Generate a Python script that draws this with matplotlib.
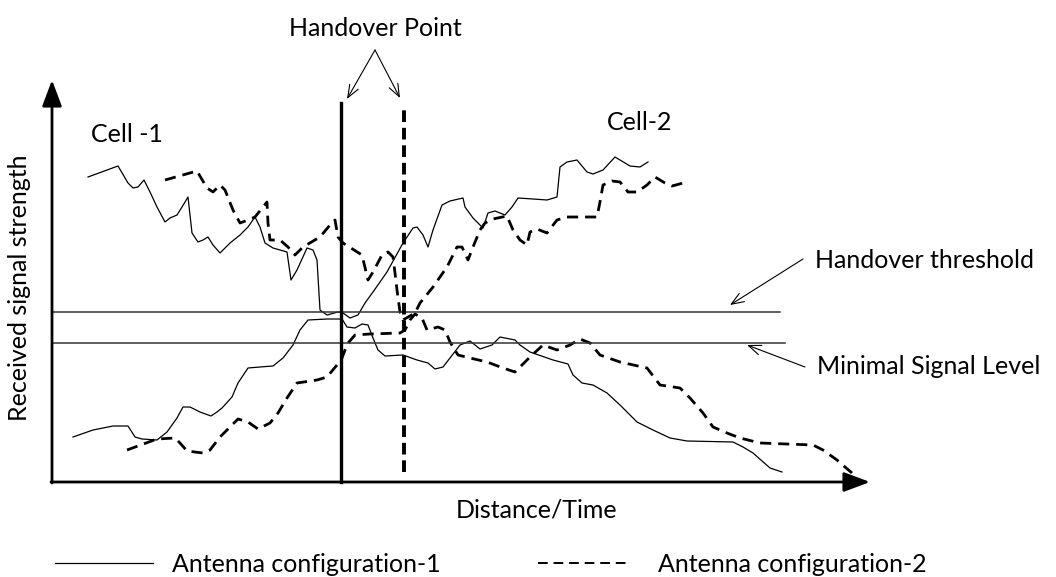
import matplotlib.pyplot as plt

plt.rcParams["font.family"] = ["Lato", "DejaVu Sans"]

# received signal traces, x = distance/time, y = signal strength (arbitrary units)
cfg1_top_x = [36, 66, 76, 81, 86, 92, 98, 105, 113, 118, 125, 130, 136, 140, 146, 151, 156, 161, 168, 178,
              188, 196, 203, 208, 213, 221, 235, 239, 245, 255, 261, 265, 268, 275, 286, 291, 298, 306, 313, 321,
              335, 351, 361, 365, 371, 376, 381, 390, 398, 411, 413, 421, 431, 436, 443, 453, 460, 466, 481, 495,
              505, 508, 515, 525, 535, 541, 551, 563, 578, 588, 596]
cfg1_top_y = [305, 316, 299, 294, 295, 302, 290, 275, 260, 264, 267, 275, 285, 249, 240, 242, 245, 237, 229, 239,
              247, 255, 265, 255, 239, 234, 230, 202, 212, 234, 232, 222, 172, 167, 170, 169, 164, 167, 179, 190,
              210, 239, 254, 255, 247, 235, 252, 277, 281, 284, 275, 264, 254, 269, 271, 267, 275, 284, 283, 282,
              285, 315, 320, 322, 310, 308, 312, 325, 316, 315, 320]

cfg1_bot_x = [21, 41, 61, 76, 83, 90, 105, 115, 125, 131, 138, 148, 159, 165, 170, 180, 186, 196, 208, 221,
              231, 241, 248, 256, 275, 290, 295, 303, 310, 316, 321, 326, 333, 351, 365, 376, 383, 391, 398, 408,
              418, 428, 440, 448, 463, 468, 478, 501, 516, 521, 530, 541, 555, 568, 585, 601, 618, 635, 681, 691,
              701, 718, 730]
cfg1_bot_y = [45, 52, 56, 56, 45, 43, 42, 50, 64, 75, 75, 70, 66, 70, 74, 85, 99, 114, 115, 116,
              124, 137, 152, 162, 163, 163, 155, 154, 158, 157, 144, 132, 126, 127, 122, 119, 113, 115, 124, 137,
              141, 133, 137, 145, 142, 137, 130, 122, 118, 107, 99, 97, 89, 77, 60, 52, 44, 41, 40, 35,
              29, 14, 10]

cfg2_top_x = [113, 145, 155, 161, 168, 173, 181, 188, 196, 203, 215, 216, 218, 228, 236, 243, 251, 268, 278, 283,
              286, 291, 310, 316, 321, 330, 336, 341, 343, 345, 348, 351, 363, 368, 381, 395, 405, 410, 416, 421,
              428, 433, 441, 455, 461, 468, 475, 478, 485, 495, 505, 515, 531, 545, 548, 551, 560, 568, 576, 585,
              595, 603, 613, 620, 635]
cfg2_top_y = [302, 311, 294, 290, 297, 292, 272, 259, 262, 265, 280, 259, 242, 242, 235, 227, 235, 245, 257, 262,
              245, 239, 227, 202, 210, 227, 230, 225, 209, 192, 170, 162, 169, 179, 195, 215, 235, 235, 222, 235,
              252, 259, 263, 266, 252, 242, 237, 250, 253, 249, 262, 265, 265, 265, 280, 297, 301, 300, 290, 290,
              297, 305, 299, 296, 300]

cfg2_bot_x = [75, 105, 123, 128, 135, 151, 158, 168, 178, 186, 196, 206, 218, 226, 235, 245, 265, 275, 285, 290,
              293, 296, 303, 318, 348, 353, 358, 363, 370, 375, 386, 393, 398, 406, 418, 435, 451, 463, 478, 491,
              505, 518, 528, 538, 548, 568, 595, 608, 628, 638, 651, 661, 675, 688, 708, 761, 771, 785, 800]
cfg2_bot_y = [32, 43, 44, 39, 31, 29, 32, 45, 55, 63, 60, 53, 59, 69, 84, 99, 102, 105, 117, 124,
              132, 139, 147, 148, 149, 152, 162, 168, 164, 152, 155, 152, 140, 127, 124, 120, 114, 110, 125, 137,
              132, 137, 143, 139, 127, 120, 114, 97, 94, 84, 69, 55, 49, 44, 39, 37, 32, 22, 9]

handover_threshold = 170
minimal_level = 139
handover_cfg1 = 289
handover_cfg2 = 352

fig = plt.figure(figsize=(10.56, 5.77), dpi=100)
ax = fig.add_axes([0, 0, 1, 1])
ax.set_xlim(-52, 1004)
ax.set_ylim(-95, 482)
ax.axis("off")

# curves
ax.plot(cfg1_top_x, cfg1_top_y, color="black", lw=0.9)
ax.plot(cfg1_bot_x, cfg1_bot_y, color="black", lw=0.9)
ax.plot(cfg2_top_x, cfg2_top_y, color="black", lw=2.0, dashes=(4, 2.5))
ax.plot(cfg2_bot_x, cfg2_bot_y, color="black", lw=2.0, dashes=(4, 2.5))

# threshold levels
ax.plot([0, 728], [handover_threshold] * 2, color="#333333", lw=1.1)
ax.plot([0, 733], [minimal_level] * 2, color="#333333", lw=1.1)

# handover points
ax.plot([handover_cfg1] * 2, [0, 379], color="black", lw=2.4)
ax.plot([handover_cfg2] * 2, [10, 377], color="black", lw=2.8, dashes=(3, 1.5))

# axes with arrow heads
arrow_kw = dict(arrowstyle="-|>,head_length=0.8,head_width=0.3", lw=2, color="black",
                shrinkA=0, shrinkB=0, mutation_scale=20)
ax.annotate("", xy=(0, 402), xytext=(0, -1), arrowprops=arrow_kw)
ax.annotate("", xy=(818, 0), xytext=(-1, 0), arrowprops=arrow_kw)

# labels
fs = 18
pointer = dict(arrowstyle="->,head_length=0.9,head_width=0.35", lw=0.8, color="black",
               shrinkA=0, shrinkB=0)
ax.text(323, 454, "Handover Point", ha="center", va="center", fontsize=fs)
ax.annotate("", xy=(295, 383), xytext=(323, 432), arrowprops=pointer)
ax.annotate("", xy=(348, 384), xytext=(323, 432), arrowprops=pointer)

ax.text(75, 347, "Cell -1", ha="center", va="center", fontsize=fs)
ax.text(588, 359, "Cell-2", ha="center", va="center", fontsize=fs)

ax.text(763, 221, "Handover threshold", ha="left", va="center", fontsize=fs)
ax.annotate("", xy=(678, 177), xytext=(751, 223), arrowprops=pointer)
ax.text(765, 116, "Minimal Signal Level", ha="left", va="center", fontsize=fs)
ax.annotate("", xy=(695, 137), xytext=(753, 115), arrowprops=pointer)

ax.text(-32, 194, "Received signal strength", ha="center", va="center", rotation=90, fontsize=fs)
ax.text(485, -28, "Distance/Time", ha="center", va="center", fontsize=fs)

# legend
ax.plot([3, 101], [-81, -81], color="black", lw=0.9)
ax.text(120, -83, "Antenna configuration-1", ha="left", va="center", fontsize=fs)
ax.plot([486, 578], [-81, -81], color="black", lw=1.4, dashes=(5, 3))
ax.text(606, -83, "Antenna configuration-2", ha="left", va="center", fontsize=fs)

fig.savefig("out.png", dpi=100)
